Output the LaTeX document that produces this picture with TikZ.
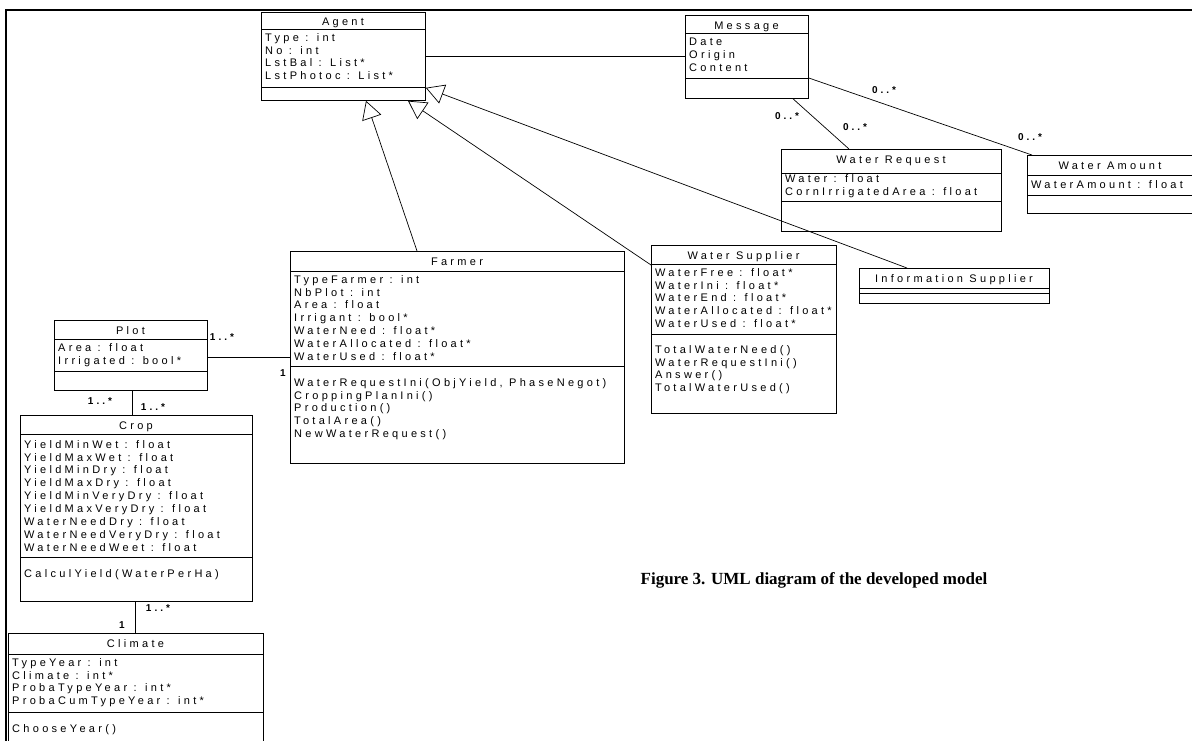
\documentclass[tikz,border=0pt]{standalone}
\usepackage{fontspec}
\setmainfont{Liberation Serif}
\newfontfamily\umlfont[LetterSpace=30]{Liberation Sans}
\usetikzlibrary{arrows.meta,calc}
\tikzset{
  cls/.style={draw, line width=0.8pt, inner sep=0pt, anchor=north west},
  sepline/.style={line width=0.8pt},
  ttl/.style={font={\umlfont\fontsize{11}{12.9}\selectfont}, inner sep=0pt, anchor=base},
  txt/.style={font={\umlfont\fontsize{11}{12.9}\selectfont}, inner sep=0pt, anchor=north west, align=left},
  assoc/.style={line width=0.7pt},
  gen/.style={line width=0.7pt, -{Triangle[open, length=18pt, width=20pt]}},
  mult/.style={font={\umlfont\bfseries\fontsize{10}{12}\selectfont}, inner sep=0pt},
  frameline/.style={line width=2.2pt},
}
\newcommand\umlsep[2]{\draw[sepline] ($(#1.north west)+(0,#2)$) -- ($(#1.north east)+(0,#2)$);}
\begin{document}
\begin{tikzpicture}[x=1pt,y=-1pt]
\useasboundingbox (0,0) rectangle (1192,740);
% frame
\draw[frameline] (6,760) -- (6,10) -- (1210,10);

% Agent
\node[cls, minimum width=164pt, minimum height=88pt] (agent) at (261,12) {};
\umlsep{agent}{17}\umlsep{agent}{75}
\node[ttl] (agent-t) at (343,25) {Agent};
\node[txt] (agent-a) at (265,33) {Type : int\\No : int\\LstBal : List*\\LstPhotoc : List*};

% Message
\node[cls, minimum width=123pt, minimum height=83pt] (msg) at (685,15) {};
\umlsep{msg}{18}\umlsep{msg}{63}
\node[ttl] (msg-t) at (746.5,29) {Message};
\node[txt] (msg-a) at (689,38) {Date\\Origin\\Content};

% Water Request
\node[cls, minimum width=220pt, minimum height=82pt] (wr) at (781,149) {};
\umlsep{wr}{24}\umlsep{wr}{52}
\node[ttl] (wr-t) at (891,163) {Water Request};
\node[txt] (wr-a) at (785,174) {Water : float\\CornIrrigatedArea : float};

% Water Amount
\node[cls, minimum width=170pt, minimum height=58pt] (wa) at (1027,155) {};
\umlsep{wa}{20}\umlsep{wa}{40}
\node[ttl] (wa-t) at (1110,169) {Water Amount};
\node[txt] (wa-a) at (1031,180) {WaterAmount : float};

% Farmer
\node[cls, minimum width=334pt, minimum height=212pt] (farmer) at (290,251) {};
\umlsep{farmer}{20}\umlsep{farmer}{115}
\node[ttl] (farmer-t) at (457,265) {Farmer};
\node[txt] (farmer-a) at (294,275) {TypeFarmer : int\\NbPlot : int\\Area : float\\Irrigant : bool*\\WaterNeed : float*\\WaterAllocated : float*\\WaterUsed : float*};
\node[txt] (farmer-m) at (294,378) {WaterRequestIni(ObjYield, PhaseNegot)\\CroppingPlanIni()\\Production()\\TotalArea()\\NewWaterRequest()};

% Water Supplier
\node[cls, minimum width=185pt, minimum height=168pt] (ws) at (651,245) {};
\umlsep{ws}{19}\umlsep{ws}{89}
\node[ttl] (ws-t) at (743.5,259) {Water Supplier};
\node[txt] (ws-a) at (655,268) {WaterFree : float*\\WaterIni : float*\\WaterEnd : float*\\WaterAllocated : float*\\WaterUsed : float*};
\node[txt] (ws-m) at (655,345) {TotalWaterNeed()\\WaterRequestIni()\\Answer()\\TotalWaterUsed()};

% Information Supplier
\node[cls, minimum width=190pt, minimum height=35pt] (is) at (859,268) {};
\umlsep{is}{20}\umlsep{is}{25}
\node[ttl] (is-t) at (954,282) {Information Supplier};

% Plot
\node[cls, minimum width=153pt, minimum height=70pt] (plot) at (54,320) {};
\umlsep{plot}{19}\umlsep{plot}{51}
\node[ttl] (plot-t) at (130.5,334) {Plot};
\node[txt] (plot-a) at (58,343) {Area : float\\Irrigated : bool*};

% Crop
\node[cls, minimum width=232pt, minimum height=186pt] (crop) at (20,415) {};
\umlsep{crop}{19}\umlsep{crop}{142}
\node[ttl] (crop-t) at (136,429) {Crop};
\node[txt] (crop-a) at (24,440) {YieldMinWet : float\\YieldMaxWet : float\\YieldMinDry : float\\YieldMaxDry : float\\YieldMinVeryDry : float\\YieldMaxVeryDry : float\\WaterNeedDry : float\\WaterNeedVeryDry : float\\WaterNeedWeet : float};
\node[txt] (crop-m) at (24,569) {CalculYield(WaterPerHa)};

% Climate
\node[cls, minimum width=255pt, minimum height=130pt] (climate) at (8,633) {};
\umlsep{climate}{21}\umlsep{climate}{79}
\node[ttl] (climate-t) at (135.5,647) {Climate};
\node[txt] (climate-a) at (12,658) {TypeYear : int\\Climate : int*\\ProbaTypeYear : int*\\ProbaCumTypeYear : int*};
\node[txt] (climate-m) at (12,724) {ChooseYear()};

% associations
\draw[assoc] (agent.east) -- (agent.east -| msg.west);
\draw[assoc] ($(msg.south west)+(108,0)$) -- ($(wr.north west)+(68,0)$);
\draw[assoc] ($(msg.north east)+(0,63)$) -- ($(wa.north west)+(5,0)$);
\coordinate (pf) at ($(plot.north east)+(0,37)$);
\draw[assoc] (pf) -- (pf -| farmer.west);
\coordinate (pc) at ($(plot.south west)+(78,0)$);
\draw[assoc] (pc) -- (pc |- crop.north);
\coordinate (cc) at ($(crop.south west)+(115,0)$);
\draw[assoc] (cc) -- (cc |- climate.north);

% generalizations
\draw[gen] ($(farmer.north west)+(127,0)$) -- ($(agent.south west)+(105,0)$);
\draw[gen] ($(ws.north west)+(0,20)$) -- ($(agent.south west)+(147,0)$);
\draw[gen] ($(is.north west)+(48,0)$) -- ($(agent.south east)+(0,-13)$);

% multiplicities
\node[mult] (m1) at (787,116) {0..*};
\node[mult] (m2) at (855,127) {0..*};
\node[mult] (m3) at (884,90) {0..*};
\node[mult] (m4) at (1030,137) {0..*};
\node[mult] (m5) at (222,337) {1..*};
\node[mult] (m6) at (283,373) {1};
\node[mult] (m7) at (100,401) {1..*};
\node[mult] (m8) at (153,407) {1..*};
\node[mult] (m9) at (158,608) {1..*};
\node[mult] (m10) at (122,625) {1};

% caption
\node[font={\bfseries\fontsize{17}{20}\selectfont}, inner sep=0pt, anchor=base] (cap) at (814,584) {Figure 3. UML diagram of the developed model};
\end{tikzpicture}
\end{document}
